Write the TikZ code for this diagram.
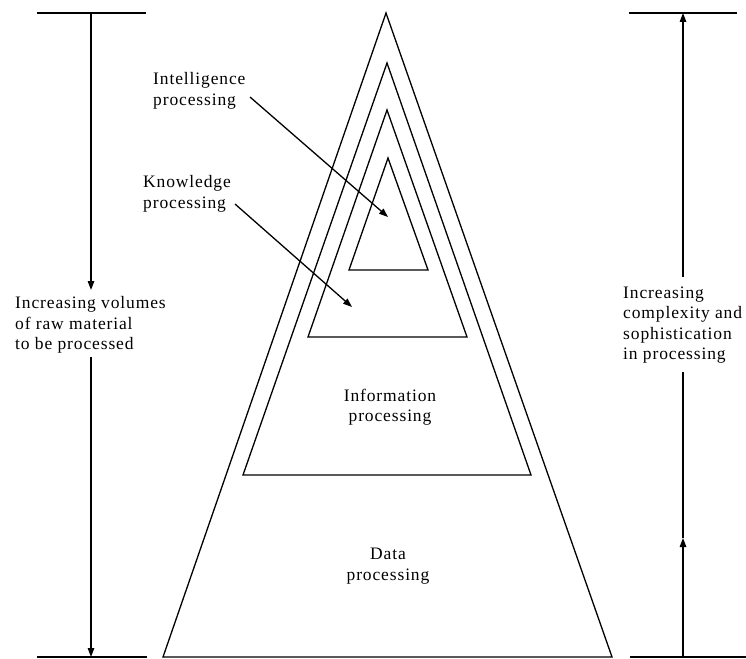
\documentclass[tikz,border=0pt]{standalone}
\usepackage{fontspec}
\setmainfont{Liberation Serif}[LetterSpace=5]
\usetikzlibrary{arrows.meta}
\begin{document}
\begin{tikzpicture}[x=1pt,y=-1pt,
  ln/.style={line width=1.3pt,line join=miter},
  tri/.style={line width=1.3pt,line join=miter},
  arr/.style={line width=1.3pt,-{Triangle[length=9pt,width=6.5pt]}},
  lbl/.style={font=\fontsize{17.5}{20.5}\selectfont,inner sep=0pt},
  lblc/.style={lbl,align=center},
  lbll/.style={lbl,align=left,anchor=west}]
\useasboundingbox (0,0) rectangle (746,658);
% triangles
\draw[tri] (386,13) -- (612,657) -- (163,657) -- cycle;
\draw[tri] (387,63) -- (531,475) -- (243,475) -- cycle;
\draw[tri] (387,110) -- (467,337) -- (308,337) -- cycle;
\draw[tri] (388,158) -- (428,270) -- (349,270) -- cycle;
% bases
\draw[ln] (37,657) -- (147,657);
\draw[ln] (630,657) -- (746,657);
\draw[ln] (37,13) -- (146,13);
\draw[ln] (629,13) -- (737,13);
% left measure
\coordinate (ltop) at (91,13);
\coordinate (lmid) at (91,290);
\coordinate (lres) at (91,357);
\coordinate (lbot) at (91,657);
\draw[arr] (ltop) -- (lmid);
\draw[arr] (lres) -- (lbot);
\node[lbll] (lefttxt) at (15,325) {Increasing volumes\\of raw material\\to be processed};
% right measure
\coordinate (rtop) at (683,13);
\coordinate (rgap) at (683,277);
\coordinate (rres) at (683,372);
\coordinate (rmid) at (683,538);
\coordinate (rbot) at (683,657);
\draw[arr] (rgap) -- (rtop);
\draw[arr] (rbot) -- (rmid);
\draw[ln] (rmid) -- (rres);
\node[lbll] (righttxt) at (623,325) {Increasing\\complexity and\\sophistication\\in processing};
% labels
\node[lbll] (intel) at (153,91) {Intelligence\\processing};
\node[lbll] (know) at (143,194) {Knowledge\\processing};
\node[lblc] (info) at (390,407) {Information\\processing};
\node[lblc] (data) at (388,566) {Data\\processing};
\coordinate (intelstart) at (250,97);
\coordinate (knowstart) at (235,204);
\coordinate (intelend) at (388,217);
\coordinate (knowend) at (352,307);
\draw[arr] (intelstart) -- (intelend);
\draw[arr] (knowstart) -- (knowend);
\end{tikzpicture}
\end{document}
